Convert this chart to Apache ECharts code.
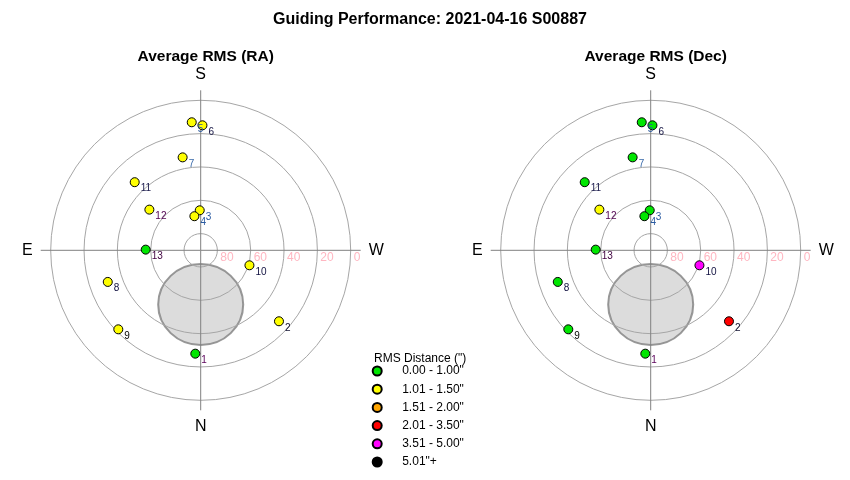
<!DOCTYPE html>
<html>
<head>
<meta charset="utf-8">
<script src="https://cdn.jsdelivr.net/npm/echarts@6/dist/echarts.min.js"></script>
<style>
html,body{margin:0;padding:0;background:#fff;}
#chart{width:850px;height:480px;}
</style>
</head>
<body>
<div id="chart"></div>
<script>
// ---- data ----
const mainTitle = 'Guiding Performance: 2021-04-16 S00887';
const panelTitles = ['Average RMS (RA)', 'Average RMS (Dec)'];
const pointNames = ['1','2','3','4','5','6','7','8','9','10','11','12','13'];
const altitude = [27.9, 26.6, 66.0, 69.2, 13.0, 15.0, 33.2, 31.1, 21.5, 59.4, 33.1, 50.7, 57.0];
const azimuth  = [3.0, 312.2, 178.6, 169.5, 176.0, 180.8, 169.0, 71.2, 46.2, 287.1, 135.9, 128.4, 90.7];
// RMS bin index for each point (0 = 0.00-1.00", 1 = 1.01-1.50", ...)
const raBins  = [0, 1, 1, 1, 1, 1, 1, 1, 1, 1, 1, 1, 0];
const decBins = [0, 3, 0, 0, 0, 0, 0, 0, 0, 4, 0, 1, 0];
const binNames = ['0.00 - 1.00"', '1.01 - 1.50"', '1.51 - 2.00"', '2.01 - 3.50"', '3.51 - 5.00"', '5.01"+'];
const legendTitle = 'RMS Distance (")';
const altTicks = [0, 20, 40, 60, 80];
const compass = {0: 'N', 90: 'E', 180: 'S', 270: 'W'};
const excluded = {alt: 57.5, az: 0}; // grey exclusion disc centre

// ---- styles ----
const binColors = ['#00e600', '#ffff00', '#ffa500', '#ff0000', '#ff00ff', '#000000'];
const labelColors = ['#5a005a','#101030','#2a5aa0','#2a5aa0','#2a5aa0','#101040','#3a6aaa','#101040','#000000','#101040','#202050','#500050','#400040'];
const FONT = 'Liberation Sans, Arial, sans-serif';
const centers = [[200.7, 250.3], [650.7, 250.3]];

const polar = [], angleAxis = [], radiusAxis = [], series = [];

centers.forEach((c, k) => {
  const base = k * 3;
  // data polar
  polar.push({center: c, radius: 150});
  angleAxis.push({polarIndex: base, type: 'value', min: 0, max: 360, startAngle: 270, clockwise: true,
    axisLine: {show: false}, axisTick: {show: false}, axisLabel: {show: false}, splitLine: {show: false}, z: 1});
  radiusAxis.push({polarIndex: base, type: 'value', inverse: true, min: 0, max: 90, interval: 20,
    axisLine: {show: false}, axisTick: {show: false}, axisLabel: {show: false},
    splitLine: {show: true, lineStyle: {color: '#a6a6a6', width: 1}}, z: 1});
  // frame polar: crosshair + compass letters
  polar.push({center: c, radius: 160});
  angleAxis.push({polarIndex: base + 1, type: 'value', min: 0, max: 360, interval: 90, startAngle: 270, clockwise: true,
    axisLine: {show: false}, axisTick: {show: false},
    axisLabel: {show: true, margin: 8, fontSize: 16, color: '#000', fontFamily: FONT,
      formatter: v => compass[((v % 360) + 360) % 360] || ''},
    splitLine: {show: true, lineStyle: {color: '#808080', width: 1}}, z: 1});
  radiusAxis.push({polarIndex: base + 1, type: 'value', min: 0, max: 96, show: false});
  // altitude labels polar (axis pointing west / right)
  polar.push({center: c, radius: 150});
  angleAxis.push({polarIndex: base + 2, type: 'value', min: 0, max: 360, startAngle: 0, show: false});
  radiusAxis.push({polarIndex: base + 2, type: 'value', inverse: true, min: 0, max: 90, interval: 20,
    axisLine: {show: false}, axisTick: {show: false}, splitLine: {show: false},
    axisLabel: {show: true, margin: -7.5, align: 'left', verticalAlign: 'middle', padding: [0, 0, 0, 3],
      fontSize: 12, color: '#ffb6c1', fontFamily: FONT,
      formatter: v => altTicks.indexOf(v) >= 0 ? String(v) : ''}, z: 1});

  // exclusion disc
  series.push({type: 'scatter', coordinateSystem: 'polar', polarIndex: base, z: 0, silent: true,
    symbol: 'circle', symbolSize: [85, 81],
    itemStyle: {color: '#d3d3d3', borderColor: '#808080', borderWidth: 2},
    data: [[excluded.alt, excluded.az]]});

  const bins = k === 0 ? raBins : decBins;
  binNames.forEach((name, b) => {
    const data = [];
    pointNames.forEach((pn, i) => {
      if (bins[i] === b) data.push({name: pn, value: [altitude[i], azimuth[i]], label: {color: labelColors[i]}});
    });
    series.push({type: 'scatter', name: name, coordinateSystem: 'polar', polarIndex: base, z: 3,
      symbol: 'circle', symbolSize: 9,
      itemStyle: {color: binColors[b], borderColor: '#000', borderWidth: 1, opacity: 1},
      label: {show: true, formatter: p => p.name, position: [11, 11.5], align: 'left', verticalAlign: 'middle',
        fontSize: 10, fontFamily: FONT},
      emphasis: {disabled: true},
      data: data});
  });
});

const chart = echarts.init(document.getElementById('chart'), null, {renderer: 'canvas'});
chart.setOption({
  animation: false,
  backgroundColor: '#fff',
  title: [
    {text: mainTitle, left: 425, top: 7, textAlign: 'center', textStyle: {fontSize: 16, fontWeight: 'bold', color: '#000', fontFamily: FONT}},
    {text: panelTitles[0], left: 200.7, top: 44, textAlign: 'center', textStyle: {fontSize: 15.5, fontWeight: 'bold', color: '#000', fontFamily: FONT}},
    {text: panelTitles[1], left: 650.7, top: 44, textAlign: 'center', textStyle: {fontSize: 15.5, fontWeight: 'bold', color: '#000', fontFamily: FONT}},
    {text: legendTitle, left: 374, top: 353, padding: 0, textStyle: {fontSize: 12, fontWeight: 'normal', color: '#000', fontFamily: FONT}}
  ],
  legend: {
    orient: 'vertical', left: 371.7, top: 362, padding: 0,
    data: binNames, icon: 'circle', itemWidth: 40, itemHeight: 9, itemGap: 0.2,
    selectedMode: false,
    textStyle: {fontSize: 12, color: '#000', fontFamily: FONT, lineHeight: 18}
  },
  polar: polar,
  angleAxis: angleAxis,
  radiusAxis: radiusAxis,
  series: series
});
</script>
</body>
</html>
